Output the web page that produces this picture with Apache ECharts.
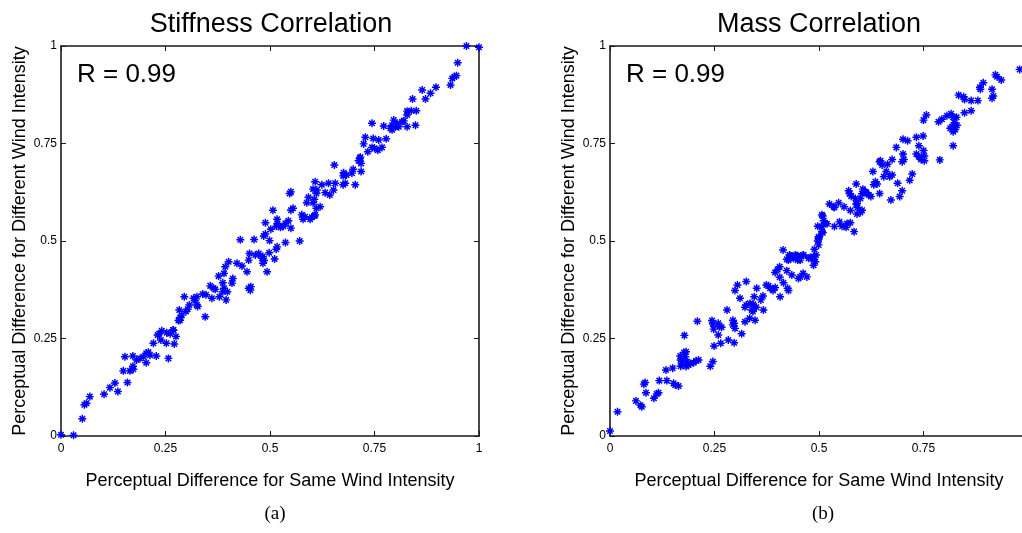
<!DOCTYPE html>
<html><head><meta charset="utf-8">
<script src="https://cdn.jsdelivr.net/npm/echarts@6/dist/echarts.min.js"></script>
<style>html,body{margin:0;padding:0;background:#fff;overflow:hidden}#c{width:1060px;height:533px}</style>
</head><body><div id="c"></div>
<script>
const panelTitles = ['Stiffness Correlation', 'Mass Correlation'];
const panelCaptions = ['(a)', '(b)'];
const corrTexts = ['R = 0.99', 'R = 0.99'];
const xAxisName = 'Perceptual Difference for Same Wind Intensity';
const yAxisName = 'Perceptual Difference for Different Wind Intensity';
const tickValues = [0, 0.25, 0.5, 0.75, 1];
const tickLabels = ['0', '0.25', '0.5', '0.75', '1'];

const stiffnessPoints = [
[0,0.003],[0.03,0.002],[0.051,0.044],[0.056,0.080],[0.061,0.084],[0.069,0.101],[0.103,0.107],[0.117,0.124],[0.129,0.136],[0.136,0.114],
[0.149,0.167],[0.153,0.203],[0.159,0.137],[0.165,0.167],[0.172,0.179],[0.173,0.171],[0.172,0.205],[0.181,0.195],[0.189,0.199],[0.197,0.203],
[0.204,0.212],[0.209,0.215],[0.204,0.188],[0.213,0.207],[0.221,0.238],[0.228,0.205],[0.231,0.259],[0.235,0.262],[0.239,0.246],[0.241,0.27],
[0.252,0.238],[0.253,0.265],[0.257,0.199],[0.261,0.262],[0.268,0.272],[0.271,0.236],[0.275,0.255],[0.281,0.296],[0.283,0.323],[0.285,0.304],
[0.289,0.31],[0.295,0.357],[0.299,0.319],[0.303,0.325],[0.307,0.336],[0.317,0.353],[0.321,0.347],[0.325,0.357],[0.327,0.332],[0.339,0.364],
[0.345,0.306],[0.347,0.362],[0.357,0.385],[0.361,0.353],[0.365,0.379],[0.369,0.376],[0.377,0.41],[0.379,0.357],[0.387,0.37],[0.39,0.379],
[0.387,0.393],[0.39,0.417],[0.393,0.434],[0.395,0.349],[0.398,0.37],[0.401,0.447],[0.409,0.392],[0.411,0.404],[0.421,0.443],[0.429,0.503],
[0.433,0.436],[0.445,0.421],[0.449,0.379],[0.453,0.374],[0.449,0.451],[0.451,0.468],[0.462,0.504],[0.465,0.464],[0.473,0.468],
[0.325,0.336],[0.285,0.297],[0.269,0.272],
[0.724,0.749],[0.734,0.729],[0.715,0.712],[0.718,0.699],[0.712,0.706],[0.654,0.695],[0.699,0.684],[0.696,0.674],[0.718,0.678],[0.676,0.675],
[0.675,0.667],[0.683,0.669],[0.704,0.644],[0.608,0.652],[0.624,0.644],[0.64,0.648],[0.656,0.648],[0.603,0.633],[0.612,0.631],[0.611,0.622],
[0.632,0.624],[0.643,0.618],[0.652,0.631],[0.675,0.644],[0.68,0.648],[0.547,0.622],[0.55,0.626],[0.592,0.612],[0.588,0.598],[0.606,0.607],
[0.603,0.598],[0.611,0.584],[0.62,0.588],[0.608,0.567],[0.507,0.579],[0.55,0.579],[0.555,0.584],[0.576,0.567],[0.579,0.556],[0.584,0.562],
[0.596,0.556],[0.6,0.561],[0.606,0.564],[0.489,0.547],[0.517,0.556],[0.518,0.545],[0.515,0.538],[0.502,0.53],[0.525,0.535],[0.532,0.538],
[0.537,0.545],[0.544,0.552],[0.55,0.533],[0.485,0.513],[0.489,0.518],[0.499,0.501],[0.537,0.496],[0.571,0.5],[0.517,0.485],[0.515,0.479],
[0.498,0.47],[0.511,0.454],[0.481,0.456],[0.483,0.443],[0.486,0.45],[0.493,0.421],[0.454,0.383],[0.483,0.46],
[0.97,1.0],[1.0,0.997],[0.949,0.957],[0.936,0.917],[0.941,0.921],[0.946,0.924],[0.932,0.9],[0.864,0.887],[0.897,0.894],[0.884,0.879],
[0.841,0.864],[0.872,0.864],[0.828,0.833],[0.838,0.834],[0.85,0.834],[0.828,0.823],[0.744,0.802],[0.772,0.795],[0.792,0.797],[0.788,0.789],
[0.796,0.81],[0.804,0.802],[0.816,0.806],[0.82,0.808],[0.808,0.793],[0.828,0.793],[0.848,0.797],[0.792,0.785],[0.8,0.792],[0.728,0.766],
[0.747,0.763],[0.76,0.759],[0.778,0.762],[0.744,0.74],[0.75,0.738],[0.758,0.733],[0.768,0.74],[0.716,0.715]
];

const massPoints = [
[0,0.013],[0.018,0.062],[0.062,0.09],[0.073,0.079],[0.076,0.075],[0.081,0.133],[0.084,0.137],[0.086,0.111],[0.105,0.097],[0.112,0.108],
[0.116,0.111],[0.118,0.142],[0.134,0.169],[0.136,0.142],[0.15,0.174],[0.152,0.135],[0.156,0.131],[0.164,0.128],[0.168,0.205],[0.169,0.195],
[0.172,0.191],[0.174,0.182],[0.169,0.179],[0.178,0.258],[0.177,0.214],[0.182,0.216],[0.18,0.203],[0.184,0.191],[0.182,0.178],[0.188,0.182],
[0.192,0.186],[0.2,0.188],[0.206,0.193],[0.212,0.195],[0.209,0.294],[0.24,0.179],[0.246,0.191],[0.244,0.296],[0.246,0.287],[0.248,0.274],
[0.249,0.231],[0.259,0.289],[0.262,0.28],[0.267,0.279],[0.259,0.259],[0.265,0.238],[0.28,0.323],[0.283,0.246],[0.297,0.239],[0.294,0.297],
[0.297,0.289],[0.299,0.276],[0.294,0.285],[0.299,0.373],[0.305,0.387],[0.311,0.353],[0.315,0.262],[0.323,0.293],[0.326,0.396],[0.326,0.336],
[0.323,0.33],[0.334,0.302],[0.335,0.34],[0.339,0.323],[0.342,0.319],[0.343,0.338],[0.347,0.297],[0.35,0.33],[0.345,0.357],[0.351,0.379],
[0.361,0.349],[0.366,0.359],[0.367,0.323],[0.374,0.387],[0.379,0.385],[0.383,0.379],[0.39,0.373],[0.395,0.381],[0.395,0.419],[0.401,0.427],
[0.406,0.434],[0.407,0.357],[0.406,0.407],[0.414,0.477],[0.415,0.393],[0.425,0.379],[0.427,0.373],[0.423,0.453],[0.429,0.464],[0.435,0.458],
[0.443,0.464],[0.449,0.462],[0.455,0.451],[0.462,0.464],[0.423,0.424],[0.435,0.413],[0.451,0.404],[0.462,0.417],[0.471,0.408],[0.475,0.456],
[0.645,0.703],[0.629,0.678],[0.635,0.652],[0.639,0.646],[0.631,0.644],[0.589,0.646],[0.571,0.629],[0.573,0.622],[0.577,0.615],[0.605,0.633],
[0.603,0.621],[0.613,0.624],[0.619,0.618],[0.624,0.614],[0.599,0.609],[0.525,0.595],[0.537,0.586],[0.547,0.598],[0.56,0.588],[0.575,0.578],
[0.589,0.595],[0.592,0.586],[0.591,0.569],[0.603,0.579],[0.599,0.573],[0.509,0.564],[0.511,0.552],[0.507,0.537],[0.519,0.544],[0.537,0.537],
[0.549,0.549],[0.555,0.538],[0.565,0.535],[0.575,0.547],[0.584,0.524],[0.509,0.521],[0.499,0.511],[0.499,0.505],[0.497,0.5],[0.499,0.49],
[0.489,0.479],[0.493,0.464],[0.487,0.46],[0.491,0.447],[0.487,0.438],[0.479,0.458],[0.463,0.464],[0.446,0.462],[0.439,0.456],[0.431,0.462],
[0.427,0.451],[0.449,0.451],[0.487,0.453],[0.455,0.408],
[0.98,0.94],[0.922,0.926],[0.926,0.921],[0.936,0.913],[0.893,0.906],[0.885,0.894],[0.886,0.889],[0.914,0.889],[0.917,0.872],[0.914,0.866],
[0.834,0.874],[0.846,0.87],[0.848,0.863],[0.864,0.86],[0.88,0.86],[0.864,0.834],[0.848,0.829],[0.757,0.823],[0.75,0.81],[0.786,0.806],
[0.794,0.812],[0.806,0.821],[0.816,0.826],[0.821,0.817],[0.829,0.817],[0.824,0.803],[0.83,0.797],[0.818,0.793],[0.814,0.789],[0.826,0.786],
[0.821,0.78],[0.821,0.744],[0.789,0.708],[0.701,0.761],[0.712,0.757],[0.733,0.766],[0.749,0.769],[0.685,0.74],[0.739,0.744],[0.733,0.723],
[0.739,0.716],[0.75,0.732],[0.752,0.718],[0.752,0.706],[0.744,0.709],[0.701,0.723],[0.703,0.709],[0.699,0.703],[0.675,0.709],[0.647,0.706],
[0.651,0.695],[0.664,0.697],[0.661,0.678],[0.655,0.665],[0.669,0.665],[0.675,0.669],[0.688,0.648],[0.723,0.672],[0.717,0.656],[0.699,0.629],
[0.693,0.614],[0.672,0.605],[0.645,0.622],[0.587,0.609],[0.591,0.596],[0.611,0.626],[0.535,0.588],[0.507,0.567],[0.515,0.545],[0.567,0.545],
[0.497,0.538],[0.507,0.524],[0.5,0.509]
];

const FONT = 'Liberation Sans, Arial, Helvetica, sans-serif';
const asterisk = 'path://M0,4.1H10V5.9H0Z M4.1,0H5.9V10H4.1Z M0.9,2.2L2.2,0.9L9.1,7.8L7.8,9.1Z M7.8,0.9L9.1,2.2L2.2,9.1L0.9,7.8Z';

const chart = echarts.init(document.getElementById('c'), null, {renderer: 'canvas'});
const panels = [
  {left: 61, top: 46, width: 418, height: 390, cx: 270, data: stiffnessPoints},
  {left: 610, top: 46, width: 418, height: 390, cx: 818, data: massPoints}
];
function fmt(v) {
  for (let i = 0; i < tickValues.length; i++) if (Math.abs(tickValues[i] - v) < 1e-9) return tickLabels[i];
  return '';
}
const lineStyle = {color: '#1a1a1a', width: 1.6};
function axisBase(extra) {
  return Object.assign({
    type: 'value', min: 0, max: 1, interval: 0.25,
    splitLine: {show: false},
    axisLine: {show: true, onZero: false, lineStyle: lineStyle},
    axisTick: {show: true, inside: true, length: 5, lineStyle: {color: '#1a1a1a', width: 1}},
    axisLabel: {show: true, fontSize: 12, color: '#000', fontFamily: FONT, formatter: fmt, showMinLabel: true, showMaxLabel: true}
  }, extra);
}
const grid = [], xAxis = [], yAxis = [], series = [], title = [];
panels.forEach((p, i) => {
  grid.push({left: p.left, top: p.top, width: p.width, height: p.height, containLabel: false});
  xAxis.push(axisBase({gridIndex: i, position: 'bottom', name: xAxisName, nameLocation: 'middle', nameGap: 36,
    nameTextStyle: {fontSize: 18, color: '#000', fontFamily: FONT}, axisLabel: {show: true, margin: 7, fontSize: 12, color: '#000', fontFamily: FONT, formatter: fmt, showMinLabel: true, showMaxLabel: true}}));
  xAxis.push(axisBase({gridIndex: i, position: 'top', axisLabel: {show: false}}));
  yAxis.push(axisBase({gridIndex: i, position: 'left', name: yAxisName, nameLocation: 'middle', nameGap: 32,
    nameTextStyle: {fontSize: 18, color: '#000', fontFamily: FONT}, axisLabel: {show: true, margin: 4, fontSize: 12, color: '#000', fontFamily: FONT, formatter: fmt, showMinLabel: true, showMaxLabel: true}}));
  yAxis.push(axisBase({gridIndex: i, position: 'right', axisLabel: {show: false}}));
  series.push({
    type: 'scatter', xAxisIndex: i * 2, yAxisIndex: i * 2, data: p.data,
    symbol: asterisk, symbolSize: 8, clip: false,
    itemStyle: {color: '#0000ff', opacity: 1},
    emphasis: {disabled: true}
  });
  title.push({text: panelTitles[i], left: p.cx - 4, textAlign: 'center', top: 6,
    textStyle: {fontSize: 27, fontWeight: 'normal', color: '#000', fontFamily: FONT}});
  title.push({text: corrTexts[i], left: p.left + 11, top: 57,
    textStyle: {fontSize: 26, fontWeight: 'normal', color: '#000', fontFamily: FONT}});
  title.push({text: panelCaptions[i], left: p.cx, textAlign: 'center', top: 500,
    textStyle: {fontSize: 19, fontWeight: 'normal', color: '#000', fontFamily: 'Liberation Serif, DejaVu Serif, serif'}});
});
chart.setOption({animation: false, backgroundColor: '#fff', title, grid, xAxis, yAxis, series});
</script></body></html>
